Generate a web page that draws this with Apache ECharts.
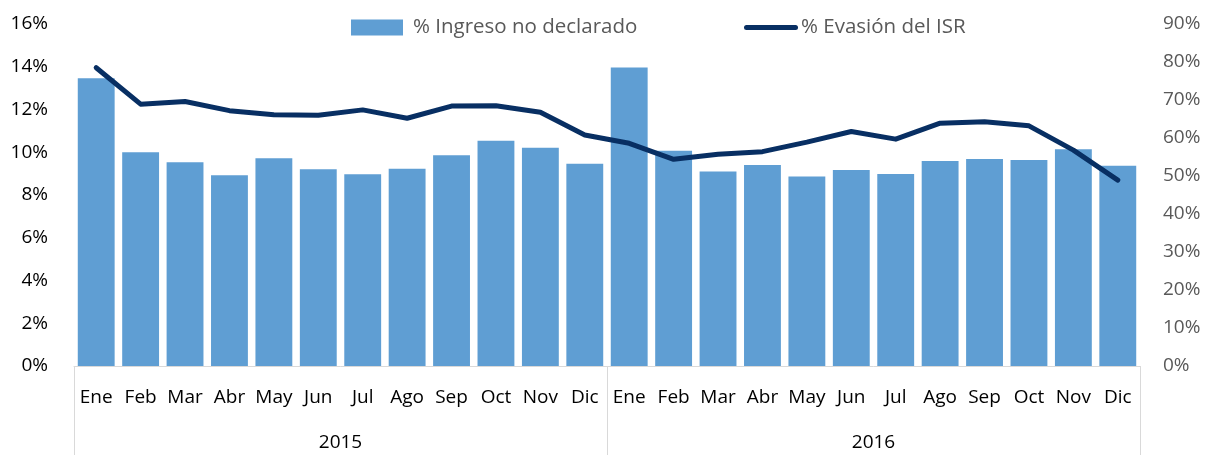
<!DOCTYPE html>
<html>
<head>
<meta charset="utf-8">
<script src="https://cdn.jsdelivr.net/npm/echarts@6/dist/echarts.min.js"></script>
<style>
  html, body { margin: 0; padding: 0; background: #fff; }
  #chart { width: 1205px; height: 455px; }
</style>
</head>
<body>
<div id="chart"></div>
<script>
// meses y años (eje de categorías de dos niveles)
const months = ['Ene', 'Feb', 'Mar', 'Abr', 'May', 'Jun', 'Jul', 'Ago', 'Sep', 'Oct', 'Nov', 'Dic',
                'Ene', 'Feb', 'Mar', 'Abr', 'May', 'Jun', 'Jul', 'Ago', 'Sep', 'Oct', 'Nov', 'Dic']
const years = ['2015', '2016']

// % Ingreso no declarado (eje izquierdo)
const ingreso = [13.46, 10.0, 9.53, 8.92, 9.72, 9.2, 8.97, 9.23, 9.86, 10.54, 10.21, 9.46,
                 13.97, 10.07, 9.1, 9.4, 8.87, 9.17, 8.98, 9.59, 9.68, 9.64, 10.14, 9.37]
// % Evasión del ISR (eje derecho)
const evasion = [78.5, 68.9, 69.6, 67.2, 66.1, 66.0, 67.4, 65.2, 68.4, 68.5, 66.8, 60.8,
                 58.6, 54.4, 55.7, 56.4, 58.9, 61.7, 59.7, 63.9, 64.3, 63.2, 56.8, 48.9]

const font = 'Open Sans'
const chart = echarts.init(document.getElementById('chart'))

// icono de línea gruesa con extremos redondeados para la leyenda
const lineIcon = 'path://M2.5,0 L51.5,0 A2.5,2.5 0 0 1 51.5,5 L2.5,5 A2.5,2.5 0 0 1 2.5,0 Z'

const option = {
    animation: false,
    textStyle: { fontFamily: font },
    legend: [
        {
            data: [{ name: '% Ingreso no declarado', icon: 'rect' }],
            left: 346, top: 12,
            itemWidth: 52, itemHeight: 16,
            textStyle: { fontFamily: font, fontSize: 20.5, color: '#595959', padding: [0, 0, 0, 5] }
        },
        {
            data: [{ name: '% Evasión del ISR', icon: lineIcon }],
            left: 739, top: 12,
            itemWidth: 54, itemHeight: 5,
            itemStyle: { color: '#082f63' },
            textStyle: { fontFamily: font, fontSize: 20.5, color: '#595959', padding: [0, 0, 0, -2] }
        }
    ],
    grid: { left: 74, right: 65, top: 24, bottom: 89, containLabel: false },
    xAxis: [
        {
            type: 'category',
            data: months,
            position: 'bottom',
            axisLine: { show: true, lineStyle: { color: '#d9d9d9', width: 1 } },
            axisTick: { show: false },
            axisLabel: { interval: 0, color: '#000', fontSize: 19, fontFamily: font, margin: 22 }
        },
        {
            type: 'category',
            data: years,
            position: 'bottom',
            axisLine: { show: false },
            axisTick: { show: true, length: 89, lineStyle: { color: '#d9d9d9', width: 1 } },
            axisLabel: { color: '#000', fontSize: 19, fontFamily: font, margin: 67 }
        }
    ],
    yAxis: [
        {
            type: 'value',
            min: 0, max: 16, interval: 2,
            splitLine: { show: false },
            axisLine: { show: false },
            axisTick: { show: false },
            axisLabel: { formatter: '{value}%', color: '#000', fontSize: 19, fontFamily: font, margin: 26 }
        },
        {
            type: 'value',
            min: 0, max: 90, interval: 10,
            position: 'right',
            splitLine: { show: false },
            axisLine: { show: false },
            axisTick: { show: false },
            axisLabel: { formatter: '{value}%', color: '#595959', fontSize: 19, fontFamily: font, margin: 23 }
        }
    ],
    series: [
        {
            name: '% Ingreso no declarado',
            type: 'bar',
            data: ingreso,
            xAxisIndex: 0,
            yAxisIndex: 0,
            barCategoryGap: '17%',
            itemStyle: { color: '#5f9ed3' }
        },
        {
            name: '% Evasión del ISR',
            type: 'line',
            data: evasion,
            xAxisIndex: 0,
            yAxisIndex: 1,
            symbol: 'none',
            lineStyle: { color: '#082f63', width: 5, cap: 'round', join: 'round' },
            itemStyle: { color: '#082f63' }
        }
    ]
}
chart.setOption(option)
</script>
</body>
</html>
